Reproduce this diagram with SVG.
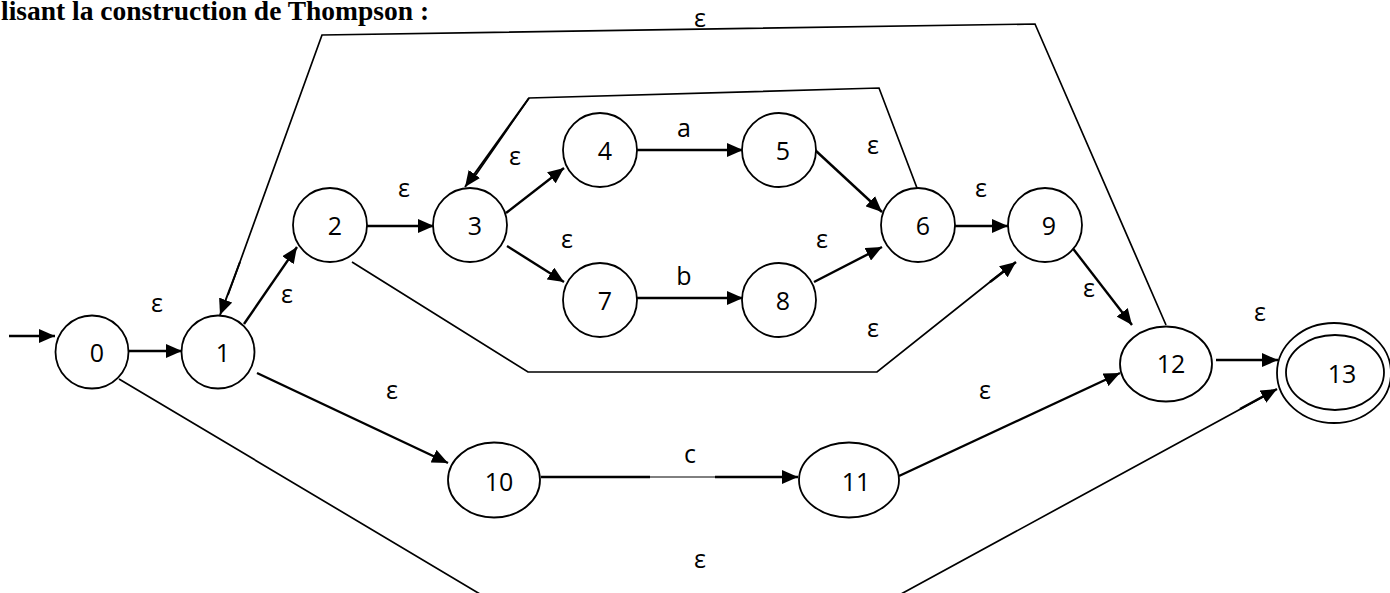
<svg xmlns="http://www.w3.org/2000/svg" width="1390" height="593" viewBox="0 0 1390 593">
<style>
.node{fill:#fff;stroke:#000;stroke-width:1.8}
.lbl{font-family:"Open Sans","Liberation Sans",sans-serif;font-size:25px;fill:#000;text-anchor:middle}
.arr{fill:none;stroke:#000;stroke-width:2.4;marker-end:url(#ah)}
.thin{fill:none;stroke:#000;stroke-width:1.7}
.title{font-family:"Liberation Serif","Times New Roman",serif;font-weight:bold;font-size:27.5px;fill:#000}
</style>
<defs>
<marker id="ah" markerUnits="userSpaceOnUse" markerWidth="16" markerHeight="14" refX="16" refY="7" orient="auto">
<path d="M0,0 L16,7 L0,14 z" fill="#000"/>
</marker>
</defs>
<rect width="1390" height="593" fill="#fff"/>
<text class="title" x="1" y="20">lisant la construction de Thompson :</text>

<g id="connectors">
<path class="arr" d="M9,336 L55,336"/>
<path class="arr" d="M128,351 L182,351"/>
<path class="arr" d="M244,324 L297,247"/>
<path class="arr" d="M367,226 L434,226"/>
<path class="arr" d="M506,213 L564,168"/>
<path class="arr" d="M507,246 L564,282"/>
<path class="arr" d="M637,150 L743,150"/>
<path class="arr" d="M637,298 L743,298"/>
<path class="arr" d="M815,150 L882,212"/>
<path class="arr" d="M814,282 L882,247"/>
<path class="arr" d="M955,226 L1008,226"/>
<path class="arr" d="M1071,246 L1132,325"/>
<path class="arr" d="M1216,360 L1278,360"/>
<path class="arr" d="M257,373 L448,463"/>
<path class="thin" d="M541,477 L650,477" style="stroke-width:2.6"/>
<path class="thin" d="M650,477 L715,477" style="stroke-width:1"/>
<path class="arr" d="M715,477 L798,477"/>
<path class="arr" d="M899,476 L1120,373"/>
<path class="thin" d="M917,188 L879,88 L529,98 L475,176"/>
<path class="arr" d="M529,98 L465,187" style="stroke-width:2"/>
<path class="thin" d="M352,262 L528,372 L877,372 L1005,270"/>
<path class="arr" d="M990,282 L1016,262"/>
<path class="thin" d="M1166,325 L1035,24 L322,35 L228,295"/>
<path class="arr" d="M240,262 L220,315" style="stroke-width:2"/>
<path class="thin" d="M119,379 L490,600 L890,600 L1270,393"/>
<path class="arr" d="M1240,409 L1277,389"/>
</g>

<g id="edge-labels">
<text class="lbl" x="157" y="312">ε</text>
<text class="lbl" x="287" y="303">ε</text>
<text class="lbl" x="404" y="197">ε</text>
<text class="lbl" x="515" y="165">ε</text>
<text class="lbl" x="567" y="248">ε</text>
<text class="lbl" x="684" y="137">a</text>
<text class="lbl" x="684" y="285">b</text>
<text class="lbl" x="873" y="154">ε</text>
<text class="lbl" x="822" y="248">ε</text>
<text class="lbl" x="981" y="197">ε</text>
<text class="lbl" x="873" y="337">ε</text>
<text class="lbl" x="1089" y="297">ε</text>
<text class="lbl" x="1260" y="321">ε</text>
<text class="lbl" x="985" y="399">ε</text>
<text class="lbl" x="392" y="399">ε</text>
<text class="lbl" x="700" y="27">ε</text>
<text class="lbl" x="690" y="463">c</text>
<text class="lbl" x="700" y="568">ε</text>
</g>

<g id="n0"><circle class="node" cx="92" cy="352" r="36.5"/><text class="lbl" x="97" y="362">0</text></g>
<g id="n1"><circle class="node" cx="218" cy="352" r="36.5"/><text class="lbl" x="223" y="362">1</text></g>
<g id="n2"><circle class="node" cx="330" cy="225" r="37"/><text class="lbl" x="335" y="235">2</text></g>
<g id="n3"><circle class="node" cx="470" cy="225" r="37"/><text class="lbl" x="475" y="235">3</text></g>
<g id="n4"><circle class="node" cx="600" cy="150" r="37"/><text class="lbl" x="605" y="160">4</text></g>
<g id="n5"><circle class="node" cx="779" cy="150" r="37"/><text class="lbl" x="783" y="160">5</text></g>
<g id="n6"><circle class="node" cx="918" cy="225" r="37"/><text class="lbl" x="923" y="235">6</text></g>
<g id="n7"><circle class="node" cx="600" cy="300" r="37"/><text class="lbl" x="605" y="310">7</text></g>
<g id="n8"><circle class="node" cx="779" cy="300" r="37"/><text class="lbl" x="783" y="310">8</text></g>
<g id="n9"><circle class="node" cx="1045" cy="225" r="37"/><text class="lbl" x="1049" y="235">9</text></g>
<g id="n10"><ellipse class="node" cx="494" cy="480" rx="46" ry="37.5"/><text class="lbl" x="499" y="491">10</text></g>
<g id="n11"><ellipse class="node" cx="849" cy="480" rx="50" ry="37.5"/><text class="lbl" x="856" y="491">11</text></g>
<g id="n12"><ellipse class="node" cx="1166" cy="364" rx="46" ry="37.5"/><text class="lbl" x="1171" y="373">12</text></g>
<g id="n13"><ellipse class="node" cx="1334" cy="373" rx="57" ry="50"/><ellipse class="node" cx="1335" cy="372.5" rx="49" ry="37.5"/><text class="lbl" x="1342" y="383">13</text></g>
</svg>
